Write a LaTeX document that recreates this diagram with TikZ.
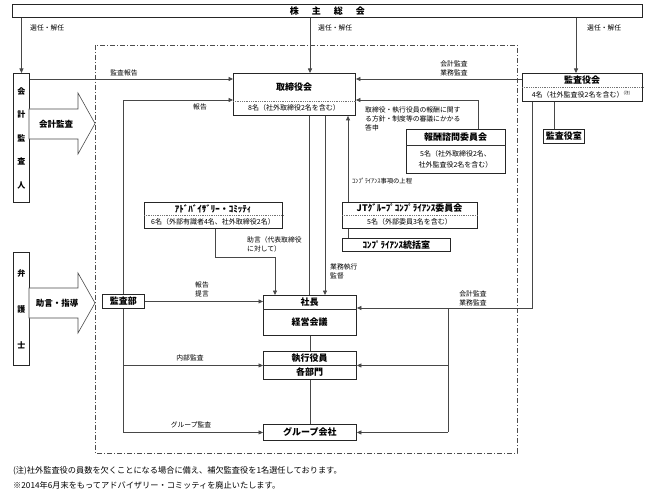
\documentclass[tikz,border=0pt]{standalone}
\usepackage{fontspec}
\setmainfont{Noto Sans CJK JP}
\usetikzlibrary{arrows.meta,calc}
\begin{document}
\begin{tikzpicture}[x=1pt,y=-1pt,
 box/.style={draw=black!85,line width=0.9pt,inner sep=0pt,anchor=north west},
 ln/.style={draw=black!72,line width=0.8pt},
 arr/.style={ln,-{Triangle[length=4.5pt,width=4pt]}},
 lbl/.style={font=\fontsize{6.8}{9}\selectfont,inner sep=0pt},
 ttl/.style={font=\fontsize{9}{10}\selectfont\bfseries,inner sep=0pt},
 subt/.style={font=\fontsize{7}{9}\selectfont,inner sep=0pt},
 dsep/.style={draw=black!55,line width=0.6pt,dash pattern=on 1pt off 0.8pt},
 lsep/.style={draw=black!80,line width=0.7pt},
 bigarr/.style={draw=black!70,line width=0.6pt,fill=white},
 frame/.style={draw=black!70,line width=0.7pt,dash pattern=on 5pt off 2pt on 1pt off 2pt},
]
\fill[white] (0,0) rectangle (647,494);
\useasboundingbox (0,0) rectangle (647,494);

% company frame
\draw[frame] (95,45) rectangle (517,453);

% shareholders
\node[box,ttl,minimum width=630pt,minimum height=13pt] (kabu) at (12,4) {株\hspace{13pt}主\hspace{13pt}総\hspace{13pt}会};

% accounting auditor & lawyer
\node[box,minimum width=16pt,minimum height=129pt,align=center,font=\fontsize{8}{23.5}\selectfont\bfseries] (kaikei) at (13,73) {会\\計\\監\\査\\人};
\node[box,minimum width=16pt,minimum height=113pt,align=center,font=\fontsize{8}{36}\selectfont\bfseries] (bengo) at (13,252) {弁\\護\\士};

\draw[bigarr] (29,109) -- (78,109) -- (78,93) -- (95,123.5) -- (78,154) -- (78,139) -- (29,139) -- cycle;
\node[font=\fontsize{8.5}{10}\selectfont\bfseries,inner sep=0pt] (kaikeikansa) at (56,124) {会計監査};
\draw[bigarr] (29,288) -- (78,288) -- (78,273) -- (95,303) -- (78,333) -- (78,318) -- (29,318) -- cycle;
\node[font=\fontsize{8.5}{10}\selectfont\bfseries,inner sep=0pt] (jogenshido) at (57,303) {助言・指導};

% board of directors
\node[box,minimum width=122pt,minimum height=42pt] (tori) at (233,73) {};
\node[ttl] (torit) at (294,87) {取締役会};
\draw[dsep] (tori.west |- 0,101) -- (tori.east |- 0,101);
\node[subt] (torin) at (294,108) {8名（社外取締役2名を含む）};

% audit & supervisory board
\node[box,minimum width=120pt,minimum height=28pt] (kyk) at (522,73) {};
\node[ttl] (kykt) at (582,80) {監査役会};
\draw[dsep] (kyk.west |- 0,87) -- (kyk.east |- 0,87);
\node[subt] (kykn) at (581,94.5) {4名（社外監査役2名を含む）\raisebox{2.5pt}{\fontsize{4}{4}\selectfont (注)}};
\node[box,ttl,minimum width=41pt,minimum height=14pt] (kysh) at (543,129) {監査役室};

% compensation committee
\node[box,minimum width=99pt,minimum height=44pt] (hou) at (406,129) {};
\node[ttl] (hout) at (455.5,137) {報酬諮問委員会};
\draw[lsep] (hou.west |- 0,145) -- (hou.east |- 0,145);
\node[subt,align=center,font=\fontsize{7}{10.5}\selectfont] (houn) at (455.5,159.5) {5名（社外取締役2名、\\社外監査役2名を含む）};

% compliance
\node[box,minimum width=135pt,minimum height=26pt] (jt) at (342,202) {};
\node[ttl] (jtt) at (409.5,208.5) {JTｸﾞﾙｰﾌﾟｺﾝﾌﾟﾗｲｱﾝｽ委員会};
\draw[dsep] (jt.west |- 0,215) -- (jt.east |- 0,215);
\node[subt] (jtn) at (409.5,222) {5名（外部委員3名を含む）};
\node[box,ttl,minimum width=108pt,minimum height=13pt] (tk) at (342,238) {ｺﾝﾌﾟﾗｲｱﾝｽ統括室};

% advisory committee
\node[box,minimum width=138pt,minimum height=26pt] (adv) at (144,202) {};
\node[ttl] (advt) at (213,208.5) {ｱﾄﾞﾊﾞｲｻﾞﾘｰ・ｺﾐｯﾃｨ};
\draw[dsep] (adv.west |- 0,215) -- (adv.east |- 0,215);
\node[subt] (advn) at (213,222) {6名（外部有識者4名、社外取締役2名）};

% internal audit
\node[box,ttl,minimum width=42pt,minimum height=14pt] (kb) at (102,294) {監査部};

% president
\node[box,minimum width=93pt,minimum height=40pt] (sh) at (263,295) {};
\draw[lsep] (sh.west |- 0,309) -- (sh.east |- 0,309);
\node[ttl] (sht) at (309.5,302) {社長};
\node[ttl] (shk) at (309.5,322) {経営会議};

% executive officers
\node[box,minimum width=93pt,minimum height=28pt] (sk) at (263,351) {};
\draw[lsep] (sk.west |- 0,365) -- (sk.east |- 0,365);
\node[ttl] (skt) at (309.5,358) {執行役員};
\node[ttl] (skb) at (309.5,372) {各部門};

% group companies
\node[box,ttl,minimum width=93pt,minimum height=16pt] (gr) at (263,424) {グループ会社};

% ---- connectors ----
\draw[arr] (kaikei.north |- kabu.south) -- (kaikei.north);
\draw[arr] (kabu.south -| 310,0) -- (tori.north -| 310,0);
\draw[arr] (kabu.south -| 576,0) -- (kyk.north -| 576,0);
\node[lbl,anchor=west] (sn1) at (30,28) {選任・解任};
\node[lbl,anchor=west] (sn2) at (318,28) {選任・解任};
\node[lbl,anchor=west] (sn3) at (587,28) {選任・解任};

\draw[arr] (kaikei.east |- 0,79) -- (tori.west |- 0,79);
\node[lbl] (l1) at (124,73) {監査報告};
\draw[arr] (kyk.west |- 0,79) -- (tori.east |- 0,79);
\node[lbl,align=center] (l2) at (454,68.5) {会計監査\\業務監査};

\draw[arr] (kb.north) |- (tori.west |- 0,100);
\node[lbl] (l3) at (200,107) {報告};

\draw[arr] (hou.north -| 478,0) |- (tori.east |- 0,100);
\node[lbl,anchor=north west,align=left] (l4) at (365,107) {取締役・執行役員の報酬に関す\\る方針・制度等の審議にかかる\\答申};

\draw[arr] (jt.north -| 348,0) -- (tori.south -| 348,0);
\node[lbl,anchor=west,font=\fontsize{6.3}{8}\selectfont] (l5) at (352,181) {ｺﾝﾌﾟﾗｲｱﾝｽ事項の上程};
\draw[ln] (jt.south -| 348,0) -- (tk.north -| 348,0);

\draw[ln] (kyk.south -| 554,0) -- (kysh.north -| 554,0);

\draw[ln] (tori.south -| 309,0) -- (sh.north -| 309,0);
\draw[arr] (tori.south -| 325,0) -- (sh.north -| 325,0);
\node[lbl,anchor=north west,align=left] (l6) at (330,264) {業務執行\\監督};

\draw[arr] (adv.south -| 215,0) -- ++(0,28) -| (sh.north -| 275,0);
\node[lbl,anchor=north west,align=left] (l7) at (247,236) {助言（代表取締役\\に対して）};

\draw[arr] (kb.east) -- (sh.west |- kb.east);
\node[lbl,align=center] (l8) at (202,289) {報告\\提言};

\draw[ln] (kb.south) -- (kb.south |- gr.west);
\draw[arr] (kb.south |- sk.west) -- (sk.west);
\draw[arr] (kb.south |- gr.west) -- (gr.west);
\node[lbl] (l9) at (190,358) {内部監査};
\node[lbl] (l10) at (191,425) {グループ監査};

\draw[ln] (sh.south) -- (sk.north);
\draw[ln] (sk.south) -- (gr.north);

\coordinate (br) at (448,308);
\draw[arr] (kyk.south -| 532,0) |- (sh.east |- br);
\draw[ln] (br) -- (br |- gr.east);
\draw[arr] (br |- sk.east) -- (sk.east);
\draw[arr] (br |- gr.east) -- (gr.east);
\node[lbl,align=center] (l11) at (473,298) {会計監査\\業務監査};

% footnotes
\node[anchor=west,inner sep=0pt,font=\fontsize{8.2}{10}\selectfont] (fn1) at (13,471) {(注)社外監査役の員数を欠くことになる場合に備え、補欠監査役を1名選任しております。};
\node[anchor=west,inner sep=0pt,font=\fontsize{8.2}{10}\selectfont] (fn2) at (13,485) {※2014年6月末をもってアドバイザリー・コミッティを廃止いたします。};
\end{tikzpicture}
\end{document}
